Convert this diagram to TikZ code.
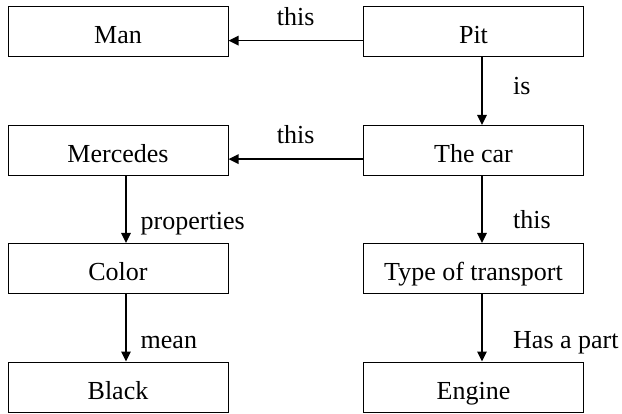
\documentclass[tikz,border=0pt]{standalone}
\usepackage{fontspec}
\setmainfont{Liberation Serif}
\usetikzlibrary{arrows.meta}
\begin{document}
\begin{tikzpicture}[x=1pt,y=1pt,
  box/.style={draw, line width=1pt, minimum width=220pt, minimum height=50pt, inner sep=0pt,
    text height=24pt, text depth=0pt, font=\fontsize{26}{30}\selectfont},
  arr/.style={line width=1.4pt, -{Triangle[length=10pt,width=9.5pt]}},
  lbl/.style={font=\fontsize{26}{30}\selectfont, inner sep=0pt}]
\useasboundingbox (0,0) rectangle (622,413);
\node[box] (man) at (118,381) {Man};
\node[box] (pit) at (473.5,381) {Pit};
\node[box] (mercedes) at (118,262.5) {Mercedes};
\node[box] (car) at (473.5,262.5) {The car};
\node[box] (color) at (118,144.5) {Color};
\node[box] (type) at (473.5,144.5) {Type of transport};
\node[box] (black) at (118,26) {Black};
\node[box] (engine) at (473.5,26) {Engine};

\draw[arr] ([yshift=-8.6pt]pit.west) -- ([yshift=-8.6pt]man.east)
  node[lbl, midway, anchor=base, yshift=14.8pt] {this};
\draw[arr] ([yshift=-8.6pt]car.west) -- ([yshift=-8.6pt]mercedes.east)
  node[lbl, midway, anchor=base, yshift=15.5pt] {this};

\draw[arr] ([xshift=8.5pt]pit.south) -- ([xshift=8.5pt]car.north)
  node[lbl, pos=0, anchor=base west, xshift=30.5pt, yshift=-37pt] {is};
\draw[arr] ([xshift=8.5pt]car.south) -- ([xshift=8.5pt]type.north)
  node[lbl, pos=0, anchor=base west, xshift=30.5pt, yshift=-52.5pt] {this};
\draw[arr] ([xshift=8.5pt]type.south) -- ([xshift=8.5pt]engine.north)
  node[lbl, pos=0, anchor=base west, xshift=30.5pt, yshift=-54.3pt] {Has a part};

\draw[arr] ([xshift=8pt]mercedes.south) -- ([xshift=8pt]color.north)
  node[lbl, pos=0, anchor=base west, xshift=14pt, yshift=-53.5pt] {properties};
\draw[arr] ([xshift=8pt]color.south) -- ([xshift=8pt]black.north)
  node[lbl, pos=0, anchor=base west, xshift=14pt, yshift=-54.3pt] {mean};
\end{tikzpicture}
\end{document}
